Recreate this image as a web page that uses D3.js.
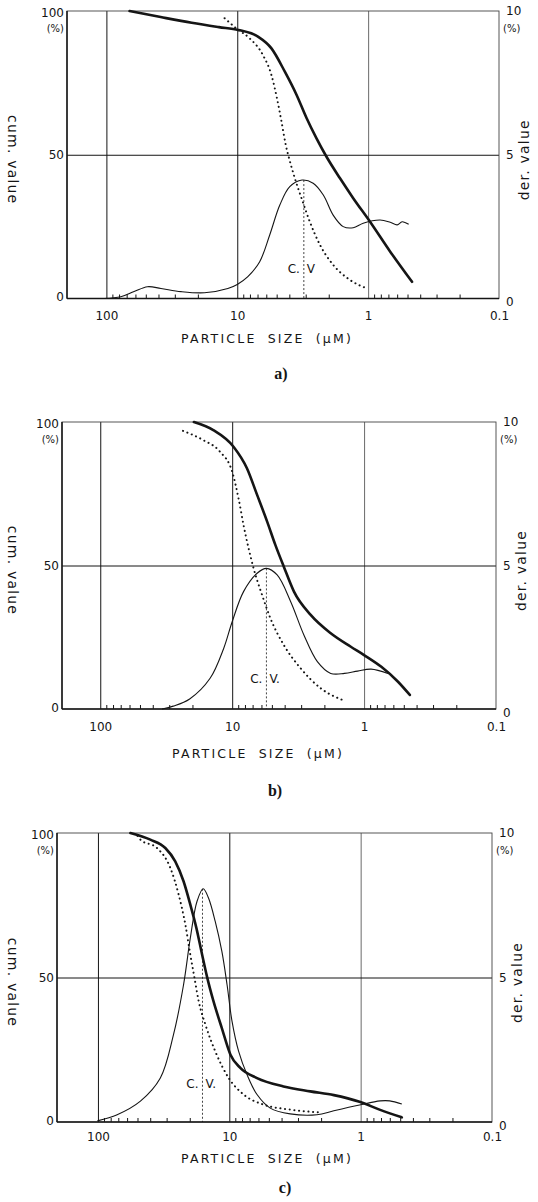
<!DOCTYPE html>
<html>
<head>
<meta charset="utf-8">
<script src="https://cdn.jsdelivr.net/npm/d3@7"></script>
<style>
  body { margin: 0; background: #fff; }
  svg { display: block; font-family: "DejaVu Sans", sans-serif; }
</style>
</head>
<body>
<svg id="chart" width="538" height="1202"></svg>
<script>
const sizeTicks = [100, 10, 1, 0.1];
const sizeTickLabels = ['100', '10', '1', '0.1'];
const cumTicks = [0, 50, 100];
const cumTickLabels = ['0', '50', '100'];
const derTicks = [0, 5, 10];
const derTickLabels = ['0', '5', '10'];
const panelNames = ['a)', 'b)', 'c)'];

// [particle size (µm), cumulative %]
const cumA = [[66.5, 100], [38.5, 97.9], [22.3, 95.9], [13.8, 94.4], [9.8, 93.4], [6.95, 91.1],
  [5.48, 87.0], [4.33, 78.9], [3.52, 70.8], [2.95, 62.7], [2.48, 55.7], [2.08, 49.3], [1.64, 41.8],
  [1.30, 34.9], [0.967, 26.7], [0.678, 16.3], [0.462, 5.8]];
const dotA = [[12.5, 97.5], [10.2, 94], [8.05, 90.5], [6.37, 84.7], [5.48, 77.7], [4.97, 69.6],
  [4.59, 61.5], [4.26, 53.4], [4.02, 48.8], [3.63, 41.8], [3.23, 34.9], [2.79, 26.7], [2.33, 18.6],
  [1.85, 11.7], [1.37, 6.4], [1.02, 3.5]];
// [particle size (µm), derivative %]
const derA = [[104, 0], [77.6, 0.06], [61.4, 0.24], [48.5, 0.41], [38.3, 0.35], [26.9, 0.24],
  [17.8, 0.20], [11.8, 0.35], [10, 0.49], [8.3, 0.76], [6.74, 1.28], [5.65, 2.21], [4.73, 3.25],
  [3.97, 3.89], [3.2, 4.12], [2.63, 4.01], [2.2, 3.6], [1.85, 2.9], [1.55, 2.5], [1.30, 2.46],
  [1.09, 2.62], [0.81, 2.73], [0.678, 2.65], [0.60, 2.56], [0.55, 2.67], [0.49, 2.58]];

const cumB = [[19.5, 100], [13.9, 97.2], [9.77, 91.4], [7.73, 83.9], [6.47, 74.6], [5.43, 65.3],
  [4.7, 57.1], [4.06, 49.6], [3.4, 40.9], [2.54, 32.8], [1.79, 26.4], [1.26, 21.7], [1.0, 18.8],
  [0.74, 14.7], [0.553, 9.5], [0.45, 4.9]];
const dotB = [[23.6, 96.9], [16.6, 93.7], [12.4, 89.7], [10, 82.7], [8.95, 73.4], [8.2, 64.1],
  [7.51, 56], [6.88, 49], [5.93, 39.7], [5.13, 31.6], [4.06, 22.3], [3.03, 14.2], [2.13, 7.2],
  [1.45, 3.1]];
const derB = [[34, 0], [28, 0.1], [21, 0.35], [14.7, 1.07], [11.6, 2.11], [10, 3.04], [8.2, 4.09],
  [6.47, 4.73], [5.5, 4.9], [4.56, 4.67], [3.6, 3.74], [2.86, 2.58], [2.26, 1.65], [1.79, 1.24],
  [1.41, 1.24], [1.12, 1.32], [0.885, 1.39], [0.66, 1.24]];

const cumC = [[56.6, 100], [39.9, 97.7], [30.7, 94.8], [25.8, 90.2], [22.3, 83.3], [19.8, 75.2],
  [17.8, 67.1], [16.1, 57.9], [14.8, 50.4], [13.2, 41.8], [11.4, 32.5], [9.8, 23.3], [8.25, 18.7],
  [6.15, 15.2], [3.87, 12.3], [2.42, 10.6], [1.6, 9.3], [1.02, 7.0], [0.71, 4.2], [0.486, 1.6]];
const dotC = [[50, 99], [47.5, 97.7], [35.5, 94.8], [28.1, 87.9], [24.3, 78.7], [21.6, 68.3],
  [19.8, 57.9], [18.4, 49.8], [17.1, 41.8], [15.2, 33.7], [12.8, 24.5], [10.1, 15.2], [7.78, 9.5],
  [5.48, 6.0], [3.44, 4.3], [2.03, 3.3]];
const derC = [[101, 0.04], [71.4, 0.25], [47.5, 0.72], [33.5, 1.52], [26.6, 3.02], [22.3, 4.75],
  [19.8, 6.37], [17.6, 7.64], [15.8, 8.07], [14.4, 7.75], [12.8, 6.94], [11.4, 5.91], [10.4, 4.75],
  [9.53, 3.48], [8.5, 2.45], [7.33, 1.64], [6.15, 0.95], [4.88, 0.48], [3.44, 0.28], [2.15, 0.25],
  [1.6, 0.39], [1.02, 0.59], [0.71, 0.73], [0.6, 0.73], [0.486, 0.62]];

// C.V. marker position (µm) per panel
const cvSizes = [3.1, 5.5, 16];
const cvTexts = [['C.', 'V'], ['C.', 'V.'], ['C.', 'V.']];

const panels = [
  {cum: cumA, dot: dotA, der: derA, xMax: 200, left: 67, right: 499, top: 11, bottom: 298.5,
    tickY: 321, titleX: 267, titleY: 343, capX: 281, capY: 379, cvY: 273},
  {cum: cumB, dot: dotB, der: derB, xMax: 195, left: 62, right: 496, top: 422, bottom: 709,
    tickY: 732, titleX: 258, titleY: 758, capX: 275, capY: 796, cvY: 683},
  {cum: cumC, dot: dotC, der: derC, xMax: 205, left: 57, right: 492, top: 833, bottom: 1122,
    tickY: 1142, titleX: 267, titleY: 1163, capX: 285, capY: 1193, cvY: 1088}
];

const ink = '#151515';
const faint = '#444';

function minorTicks() {
  const out = [];
  [100, 10, 1].forEach(d => {
    for (let k = 2; k <= 9; k++) out.push(k * d / 10);
  });
  return out;
}

function styleText(s, size) {
  s.selectAll('text')
    .attr('font-size', size)
    .attr('fill', ink)
    .attr('font-family', '"DejaVu Sans", sans-serif');
}

function drawPanel(svg, p, i) {
  const g = svg.append('g');
  const x = d3.scaleLog().domain([p.xMax, 0.1]).range([p.left, p.right]);
  const yCum = d3.scaleLinear().domain([0, 100]).range([p.bottom, p.top]);
  const yDer = d3.scaleLinear().domain([0, 10]).range([p.bottom, p.top]);
  const h = p.bottom - p.top;
  const w = p.right - p.left;

  // grid: vertical decades, horizontal 50 line
  g.append('g')
    .attr('transform', `translate(0,${p.bottom})`)
    .call(d3.axisBottom(x).tickValues([100, 10, 1]).tickSize(-h).tickFormat(''))
    .call(s => s.select('.domain').remove())
    .call(s => s.selectAll('line')
      .attr('stroke', d => d === 1 ? faint : ink)
      .attr('stroke-width', d => d === 1 ? 0.8 : 1));

  g.append('g')
    .attr('transform', `translate(${p.left},0)`)
    .call(d3.axisLeft(yCum).tickValues([50]).tickSize(-w).tickFormat(''))
    .call(s => s.select('.domain').remove())
    .call(s => s.selectAll('line').attr('stroke', ink).attr('stroke-width', 1));

  // minor ticks on the bottom axis, pointing inward
  g.append('g')
    .attr('transform', `translate(0,${p.bottom})`)
    .call(d3.axisBottom(x).tickValues(minorTicks()).tickSize(-4).tickFormat(''))
    .call(s => s.select('.domain').remove())
    .call(s => s.selectAll('line').attr('stroke', ink).attr('stroke-width', 1));

  // frame
  g.append('rect')
    .attr('x', p.left).attr('y', p.top)
    .attr('width', w).attr('height', h)
    .attr('fill', 'none').attr('stroke', faint).attr('stroke-width', 0.9);
  g.append('line')
    .attr('x1', p.left).attr('x2', p.left)
    .attr('y1', p.top).attr('y2', p.bottom)
    .attr('stroke', ink).attr('stroke-width', 1.5);
  g.append('line')
    .attr('x1', p.left).attr('x2', p.right)
    .attr('y1', p.bottom).attr('y2', p.bottom)
    .attr('stroke', ink).attr('stroke-width', 1.5);

  // tick labels
  g.append('g')
    .attr('transform', `translate(0,${p.bottom})`)
    .call(d3.axisBottom(x).tickValues(sizeTicks).tickSize(0).tickPadding(p.tickY - p.bottom - 10)
      .tickFormat((d, k) => sizeTickLabels[k]))
    .call(s => s.select('.domain').remove())
    .call(s => styleText(s, 12));

  g.append('g')
    .attr('transform', `translate(${p.left},0)`)
    .call(d3.axisLeft(yCum).tickValues(cumTicks).tickSize(0).tickPadding(3)
      .tickFormat((d, k) => cumTickLabels[k]))
    .call(s => s.select('.domain').remove())
    .call(s => styleText(s, 12))
    .call(s => s.selectAll('.tick').filter(d => d === 100).select('text').attr('dy', '0.45em'))
    .call(s => s.selectAll('.tick').filter(d => d === 0).select('text').attr('dy', '0.2em'));

  g.append('g')
    .attr('transform', `translate(${p.right},0)`)
    .call(d3.axisRight(yDer).tickValues(derTicks).tickSize(0).tickPadding(7)
      .tickFormat((d, k) => derTickLabels[k]))
    .call(s => s.select('.domain').remove())
    .call(s => styleText(s, 12))
    .call(s => s.selectAll('.tick').filter(d => d === 10).select('text').attr('dy', '0.3em'))
    .call(s => s.selectAll('.tick').filter(d => d === 0).select('text').attr('dy', '0.6em'));

  g.append('text')
    .attr('x', p.left - 3).attr('y', p.top + 21)
    .attr('text-anchor', 'end').attr('font-size', 10).attr('fill', ink)
    .text('(%)');
  g.append('text')
    .attr('x', p.right + 4).attr('y', p.top + 21)
    .attr('font-size', 10).attr('fill', ink)
    .text('(%)');

  // axis titles
  const midY = (p.top + p.bottom) / 2 + 5;
  g.append('text')
    .attr('transform', `translate(13,${midY}) rotate(90)`)
    .attr('text-anchor', 'middle').attr('dy', '0.35em')
    .attr('font-size', 14).attr('letter-spacing', 1.2).attr('fill', ink)
    .text('cum. value');
  g.append('text')
    .attr('transform', `translate(${p.right + 25},${midY}) rotate(-90)`)
    .attr('text-anchor', 'middle').attr('dy', '0.35em')
    .attr('font-size', 14).attr('letter-spacing', 1.2).attr('fill', ink)
    .text('der. value');

  g.append('text')
    .attr('x', p.titleX).attr('y', p.titleY)
    .attr('text-anchor', 'middle')
    .attr('font-size', 12.5).attr('letter-spacing', 2.2).attr('word-spacing', 5).attr('fill', ink)
    .text('PARTICLE SIZE (\u03bcM)');

  g.append('text')
    .attr('x', p.capX).attr('y', p.capY)
    .attr('text-anchor', 'middle')
    .attr('font-family', '"Liberation Serif", serif').attr('font-weight', 'bold')
    .attr('font-size', 16).attr('fill', ink)
    .text(panelNames[i]);

  // curves
  const cumLine = d3.line()
    .x(d => x(d[0])).y(d => yCum(d[1]))
    .curve(d3.curveMonotoneX);
  const derLine = d3.line()
    .x(d => x(d[0])).y(d => yDer(d[1]))
    .curve(d3.curveCatmullRom.alpha(0.5));

  g.append('path')
    .attr('d', derLine(p.der))
    .attr('fill', 'none').attr('stroke', ink).attr('stroke-width', 1.1);

  g.append('path')
    .attr('d', cumLine(p.dot))
    .attr('fill', 'none').attr('stroke', ink).attr('stroke-width', 2)
    .attr('stroke-linecap', 'round').attr('stroke-dasharray', '0.1,4.6');

  g.append('path')
    .attr('d', cumLine(p.cum))
    .attr('fill', 'none').attr('stroke', ink).attr('stroke-width', 2.6)
    .attr('stroke-linecap', 'round');

  // C.V. marker
  const cvX = x(cvSizes[i]);
  const peak = d3.max(p.der, d => d[1]);
  g.append('line')
    .attr('x1', cvX).attr('x2', cvX)
    .attr('y1', yDer(peak)).attr('y2', p.bottom)
    .attr('stroke', ink).attr('stroke-width', 0.8).attr('stroke-dasharray', '2,2');
  g.append('text')
    .attr('x', cvX - 4).attr('y', p.cvY)
    .attr('text-anchor', 'end').attr('font-size', 12).attr('fill', ink)
    .text(cvTexts[i][0]);
  g.append('text')
    .attr('x', cvX + 3).attr('y', p.cvY)
    .attr('font-size', 12).attr('fill', ink)
    .text(cvTexts[i][1]);
}

function render() {
  const svg = d3.select('#chart');
  panels.forEach((p, i) => drawPanel(svg, p, i));
}

render();
</script>
</body>
</html>
